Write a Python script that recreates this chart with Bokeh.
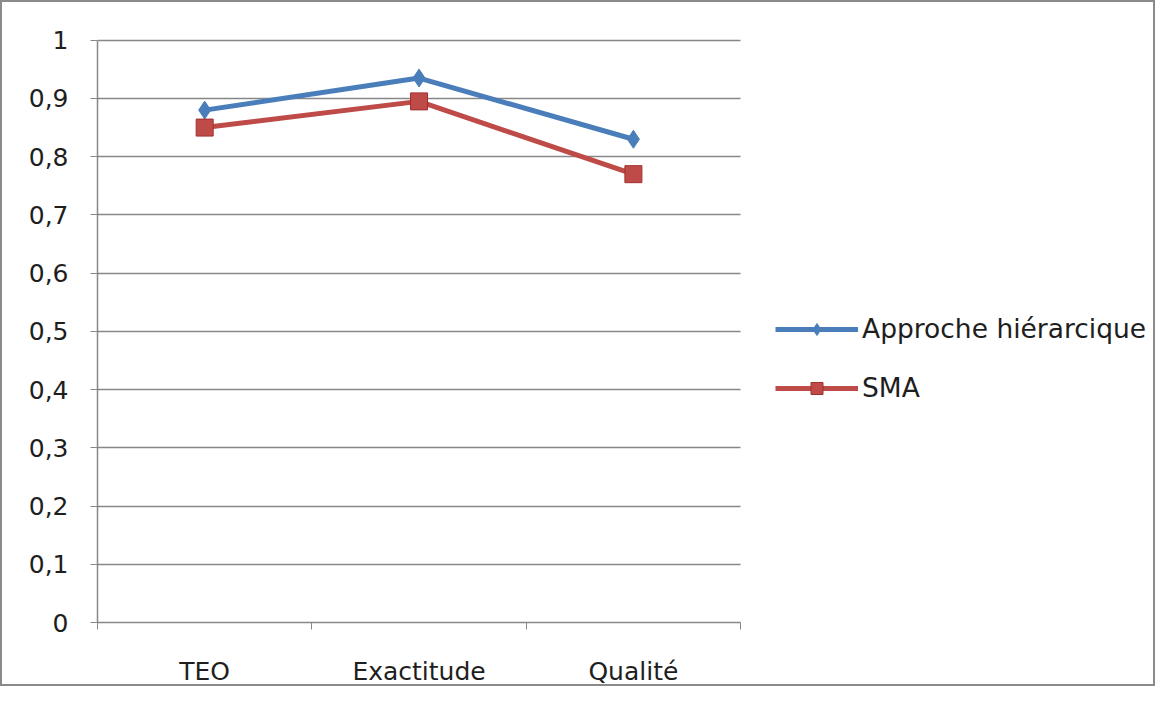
from bokeh.plotting import figure
from bokeh.models import FixedTicker, Legend, LegendItem, Range1d
from bokeh.embed import file_html
from bokeh.resources import INLINE

categories = ["TEO", "Exactitude", "Qualité"]
approche = [0.88, 0.935, 0.83]
sma = [0.85, 0.895, 0.77]
y_ticks = [0, 0.1, 0.2, 0.3, 0.4, 0.5, 0.6, 0.7, 0.8, 0.9, 1]
y_labels = ["0", "0,1", "0,2", "0,3", "0,4", "0,5", "0,6", "0,7", "0,8", "0,9", "1"]

FONT = "DejaVu Sans"
BLUE = "#4A7EBB"
RED = "#BE4B48"
GRID = "#878787"
TEXT = "#1e1e1e"

n = len(categories)
xs = [i + 0.5 for i in range(n)]

# the frame extends to the right edge so that the legend can sit inside it;
# axis and grid are bounded to the category span.
p = figure(width=1155, height=686, output_backend="svg", toolbar_location=None,
           x_range=Range1d(0, 4.945), y_range=Range1d(0, 1.003),
           min_border_left=95, min_border_right=0, min_border_top=36, min_border_bottom=60)
p.styles = {"border": "2px solid #8a8a8a"}
p.outline_line_color = None
p.background_fill_color = "white"
p.border_fill_color = "white"

# x axis
p.xaxis.bounds = (0, n)
p.xaxis.ticker = FixedTicker(ticks=xs, minor_ticks=list(range(n + 1)))
p.xaxis.major_label_overrides = {x: c for x, c in zip(xs, categories)}
p.xaxis.major_tick_out = 0
p.xaxis.major_tick_in = 0
p.xaxis.minor_tick_out = 7
p.xaxis.minor_tick_in = 0
p.xaxis.minor_tick_line_color = GRID
p.xaxis.axis_line_color = GRID
p.xaxis.axis_line_width = 1.5
p.xaxis.major_label_standoff = 27
p.xaxis.major_label_text_font = FONT
p.xaxis.major_label_text_font_size = "25px"
p.xaxis.major_label_text_color = TEXT
p.xgrid.grid_line_color = None

# y axis
p.yaxis.bounds = (0, 1)
p.yaxis.ticker = FixedTicker(ticks=y_ticks)
p.yaxis.major_label_overrides = {t: l for t, l in zip(y_ticks, y_labels)}
p.yaxis.major_tick_out = 7
p.yaxis.major_tick_in = 0
p.yaxis.minor_tick_line_color = None
p.yaxis.major_tick_line_color = GRID
p.yaxis.axis_line_color = GRID
p.yaxis.axis_line_width = 1.5
p.yaxis.major_label_standoff = 22
p.yaxis.major_label_text_font = FONT
p.yaxis.major_label_text_font_size = "25px"
p.yaxis.major_label_text_color = TEXT

ygrid = p.ygrid[0]
if "cross_bounds" in ygrid.properties():
    ygrid.grid_line_color = GRID
    ygrid.grid_line_width = 1.5
    ygrid.cross_bounds = (0, n)
else:
    ygrid.grid_line_color = None
    p.segment(x0=[0] * len(y_ticks), x1=[n] * len(y_ticks), y0=y_ticks, y1=y_ticks,
              line_color=GRID, line_width=1.5, level="underlay")

l1 = p.line(xs, approche, line_color=BLUE, line_width=5)
m1 = p.scatter(xs, approche, marker="diamond", size=18, fill_color=BLUE, line_color=BLUE)
l2 = p.line(xs, sma, line_color=RED, line_width=5)
m2 = p.scatter(xs, sma, marker="square", size=17, fill_color=RED, line_color="#A0302D")

legend = Legend(items=[LegendItem(label="Approche hiérarcique", renderers=[l1, m1]),
                       LegendItem(label="SMA", renderers=[l2, m2])],
                location=(678, 219), orientation="vertical")
legend.glyph_width = 83
legend.glyph_height = 30
legend.spacing = 28
legend.label_standoff = 4
legend.padding = 0
legend.margin = 0
legend.border_line_color = None
legend.background_fill_alpha = 0
legend.label_text_font = FONT
legend.label_text_font_size = "26.5px"
legend.label_text_color = TEXT
p.add_layout(legend, "center")

open("out.html", "w").write(file_html(p, INLINE))
